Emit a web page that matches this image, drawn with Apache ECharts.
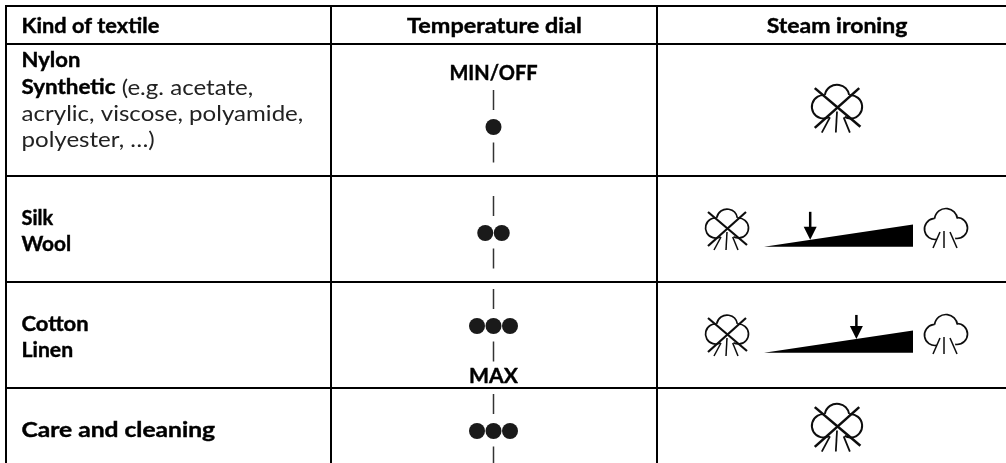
<!DOCTYPE html>
<html>
<head>
<meta charset="utf-8">
<title>Ironing table</title>
<script src="https://cdn.jsdelivr.net/npm/echarts@6/dist/echarts.min.js"></script>
<style>
html,body{margin:0;padding:0;background:#fff;}
#main{width:1006px;height:463px;}
</style>
</head>
<body>
<div id="main"></div>
<script>
// table content
var headers = ['Kind of textile', 'Temperature dial', 'Steam ironing'];
var textileLines = [
	['{b|Nylon}', '{b|Synthetic} (e.g. acetate,', 'acrylic, viscose, polyamide,', 'polyester, …)'],
	['{b|Silk}', '{b|Wool}'],
	['{b|Cotton}', '{b|Linen}'],
	['{b|Care and cleaning}']
];
var dialDots = [1, 2, 3, 3];
var dialTopLabel = ['MIN/OFF', '', '', ''];
var dialBottomLabel = ['', '', 'MAX', ''];
var steamArrow = [null, 0.31, 0.62, null]; // arrow position along the wedge

// layout of the table
var rowRules = [6, 44, 176, 282, 388];
var colRules = [6, 331, 657];
var textX = 21.5;
var firstBaseline = [67, 225, 331, 437];
var linePitch = 26;
var dialX = 493.5;
var dialCenter = [127, 233, 326, 431];
var iconCenter = [108, 229, 335, 427];
var steamX = 837;
var crossX = 727, wedgeLeft = 764, wedgeRight = 913, cloudX = 946;
var arrowLen = [0, 28, 24, 0];
var black = '#0d0d0d';
var font = 'Lato';
// horizontal stretch per string, Lato is narrower than the original face
var stretch = {
	'Kind of textile': 1.09, 'Temperature dial': 1.17, 'Steam ironing': 1.15,
	'{b|Silk}': 1.0, '{b|Wool}': 1.04, '{b|Linen}': 1.06, '{b|Cotton}': 1.1, '{b|Nylon}': 1.1,
	'{b|Care and cleaning}': 1.23, 'MIN/OFF': 1.0, 'MAX': 1.06
};

function txt(x, base, str, opt) {
	opt = opt || {};
	// lines with regular text sit in a taller line box
	var hasPlain = !opt.bold && !/^\{b\|[^}]*\}$/.test(str);
	return {
		type: 'text',
		x: x,
		y: base + (hasPlain ? 6 : 3.5),
		scaleX: stretch[str] || 1.12,
		style: {
			text: str,
			fontFamily: font,
			fontSize: opt.bold ? 20 : 21.5,
			fontWeight: opt.bold ? 'bold' : 'normal',
			fill: opt.bold ? '#000' : '#222',
			stroke: opt.bold ? '#000' : null,
			lineWidth: opt.bold ? 0.4 : 0,
			align: opt.align || 'left',
			verticalAlign: 'bottom',
			rich: {b: {fontFamily: font, fontSize: 20, fontWeight: 'bold', fill: '#000', stroke: '#000', lineWidth: 0.4}}
		}
	};
}

function ln(x1, y1, x2, y2, w, color) {
	return {
		type: 'line',
		shape: {x1: x1, y1: y1, x2: x2, y2: y2},
		style: {stroke: color || black, lineWidth: w || 2, fill: null}
	};
}

function lobe(cx, cy, r, from, to) {
	return {
		type: 'arc',
		shape: {cx: cx, cy: cy, r: r, startAngle: from * Math.PI / 180, endAngle: to * Math.PI / 180, clockwise: true},
		style: {stroke: black, lineWidth: 1.7, fill: null}
	};
}

// steam cloud, optionally crossed out
function steamIcon(pt, scale, crossed) {
	var kids = crossed ? [
		lobe(-11.5, -1, 10, 60, 275),
		lobe(0, -9.4, 10.5, 190, 350),
		lobe(11.5, -1, 10, 265, 480),
		ln(-19, -17, 20, 16, 2.2),
		ln(19, -17, -19, 17, 2.2),
		ln(0, 3, -1, 21, 1.5),
		ln(-6, 8, -13, 21, 1.5),
		ln(5.7, 8, 11, 21, 1.5)
	] : [
		lobe(-11, 0, 10.5, 80, 268),
		lobe(0, -9, 11.5, 187, 353),
		lobe(11, -1, 10.5, 270, 460),
		ln(-2, 2, -2, 19, 1.5),
		ln(-6, 3, -13, 19, 1.5),
		ln(4, 3, 11, 19, 1.5)
	];
	return {type: 'group', x: pt[0], y: pt[1], scaleX: scale, scaleY: scale, children: kids};
}

function dial(i, api) {
	var c = api.coord([dialX, dialCenter[i]]);
	var kids = [];
	kids.push(ln(c[0], c[1] - 37, c[0], c[1] - 17, 1.5, '#333'));
	kids.push(ln(c[0], c[1] + 15.5, c[0], c[1] + 35.5, 1.5, '#333'));
	for (var d = 0; d < dialDots[i]; d++) {
		kids.push({
			type: 'circle',
			shape: {cx: c[0] + (d - (dialDots[i] - 1) / 2) * 16.5, cy: c[1], r: 8},
			style: {fill: '#1a1a1a'}
		});
	}
	if (dialTopLabel[i]) kids.push(txt(c[0], c[1] - 47, dialTopLabel[i], {bold: true, align: 'center'}));
	if (dialBottomLabel[i]) kids.push(txt(c[0], c[1] + 57, dialBottomLabel[i], {bold: true, align: 'center'}));
	return kids;
}

function renderRow(params, api) {
	var i = api.value(0);
	var kids = [];
	textileLines[i].forEach(function (s, k) {
		var p = api.coord([textX, firstBaseline[i] + k * linePitch]);
		kids.push(txt(p[0], p[1], s));
	});
	kids = kids.concat(dial(i, api));
	if (steamArrow[i] == null) {
		kids.push(steamIcon(api.coord([steamX, iconCenter[i]]), 1.17, true));
	} else {
		var y = iconCenter[i];
		var l = api.coord([wedgeLeft, y + 17.7]);
		var r = api.coord([wedgeRight, y + 17.7]);
		var t = api.coord([wedgeRight, y - 4.5]);
		kids.push(steamIcon(api.coord([crossX, y]), 1, true));
		kids.push(steamIcon(api.coord([cloudX, y]), 1, false));
		kids.push({type: 'polygon', shape: {points: [l, r, t]}, style: {fill: '#000'}});
		var ax = wedgeLeft + steamArrow[i] * (wedgeRight - wedgeLeft);
		var tip = api.coord([ax, y + 17.7 - steamArrow[i] * 22.2]);
		kids.push(ln(tip[0], tip[1] - arrowLen[i], tip[0], tip[1] - 10, 2.5, '#000'));
		kids.push({
			type: 'polygon',
			shape: {points: [[tip[0] - 6.5, tip[1] - 13], [tip[0] + 6.5, tip[1] - 13], tip]},
			style: {fill: '#000'}
		});
	}
	return {type: 'group', children: kids};
}

function renderRules(params, api) {
	var kids = [];
	rowRules.forEach(function (y) {
		var a = api.coord([colRules[0], y]), b = api.coord([1006, y]);
		kids.push(ln(a[0] - 1, a[1], b[0], b[1], 2, '#000'));
	});
	colRules.forEach(function (x) {
		var a = api.coord([x, rowRules[0]]), b = api.coord([x, 463]);
		kids.push(ln(a[0], a[1], b[0], b[1], 2, '#000'));
	});
	var hx = [21.5, 494.5, 837];
	headers.forEach(function (h, i) {
		var p = api.coord([hx[i], 33]);
		kids.push(txt(p[0], p[1], h, {bold: true, align: i == 0 ? 'left' : 'center'}));
	});
	return {type: 'group', children: kids};
}

var myChart = echarts.init(document.getElementById('main'));
myChart.setOption({
	animation: false,
	backgroundColor: '#fff',
	grid: {left: 0, right: 0, top: 0, bottom: 0},
	xAxis: {type: 'value', min: 0, max: 1006, show: false},
	yAxis: {type: 'value', min: 0, max: 463, inverse: true, show: false},
	series: [
		{type: 'custom', coordinateSystem: 'cartesian2d', clip: false, silent: true, renderItem: renderRules, data: [[0]], encode: {x: 0}},
		{type: 'custom', coordinateSystem: 'cartesian2d', clip: false, silent: true, renderItem: renderRow, data: [[0], [1], [2], [3]], encode: {x: 0}}
	]
});
</script>
</body>
</html>
